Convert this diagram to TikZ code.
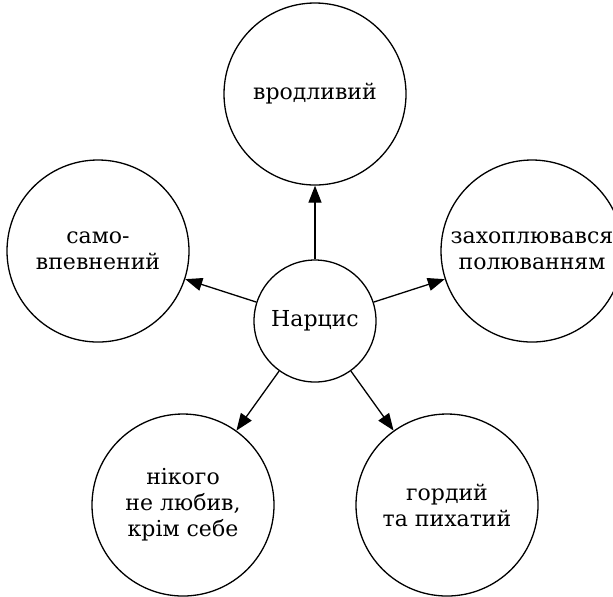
\documentclass[tikz,border=0pt]{standalone}
\usepackage{fontspec}
\setmainfont{DejaVu Serif}
\usetikzlibrary{arrows.meta}
\begin{document}
\begin{tikzpicture}[x=0.5pt,y=-0.5pt]
			\tikzstyle{TR}=[circle,draw=black,line width=0.65pt,inner sep=0pt,align=center,
			font=\fontsize{11}{13}\selectfont,minimum size=91pt]
			\useasboundingbox (0,0) rectangle (613,596);
			\begin{scope}
			\node[TR,minimum size=61pt] (N-0) at (315,321) {Нарцис};
			\node[TR] (N-1) at (315,94)  {вродливий};
			\node[TR] (N-2) at (98,251)  {само-\\впевнений};
			\node[TR] (N-3) at (532,251) {захоплювався\\полюванням};
			\node[TR] (N-4) at (183,505) {нікого\\не любив,\\крім себе};
			\node[TR] (N-5) at (447,505) {гордий\\та пихатий};
			\end{scope}
			
			\path[-{Triangle[length=8.5pt,width=6.5pt]},line width=0.65pt]
			(N-0) edge (N-1)
			(N-0) edge (N-2)
			(N-0) edge (N-3)
			(N-0) edge (N-4)
			(N-0) edge (N-5)
			;
		\end{tikzpicture}
\end{document}
